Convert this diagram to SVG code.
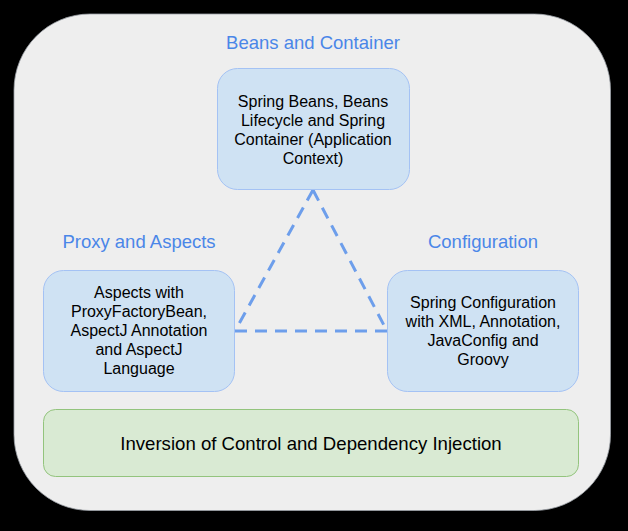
<svg xmlns="http://www.w3.org/2000/svg" width="628" height="531" viewBox="0 0 628 531">
<style>
.title{font-family:"Liberation Sans",Arial,sans-serif;font-size:18.5px;fill:#4a86e8;text-anchor:middle}
.txt{font-family:"Liberation Sans",Arial,sans-serif;font-size:16px;fill:#000;text-anchor:middle}
.big{font-family:"Liberation Sans",Arial,sans-serif;font-size:18.6px;fill:#000;text-anchor:middle}
.node{fill:#cfe2f3;stroke:#a4c2f4;stroke-width:1}
.conn{stroke:#6d9eeb;stroke-width:3;fill:none;stroke-dasharray:12 8}
</style>
<rect x="0" y="0" width="628" height="531" fill="#000"/>
<rect id="frame" x="14" y="14" width="596.5" height="496.5" rx="76" ry="76" fill="#eeeeee" stroke="#9aa0a6" stroke-width="0.8"/>
<text class="title" x="313" y="49">Beans and Container</text>
<text class="title" x="139" y="248">Proxy and Aspects</text>
<text class="title" x="483" y="248">Configuration</text>
<g id="connectors">
<line class="conn" x1="313" y1="190" x2="235" y2="331"/>
<line class="conn" x1="313" y1="190" x2="387" y2="331"/>
<line class="conn" x1="235" y1="331" x2="387" y2="331"/>
</g>
<g id="beans">
<rect class="node" x="217.5" y="68.5" width="192" height="121" rx="20"/>
<text class="txt" x="313" y="107">Spring Beans, Beans</text>
<text class="txt" x="313" y="126">Lifecycle and Spring</text>
<text class="txt" x="313" y="145">Container (Application</text>
<text class="txt" x="313" y="164">Context)</text>
</g>
<g id="aspects">
<rect class="node" x="43.5" y="270.5" width="191" height="121" rx="20"/>
<text class="txt" x="139" y="298">Aspects with</text>
<text class="txt" x="139" y="317">ProxyFactoryBean,</text>
<text class="txt" x="139" y="336">AspectJ Annotation</text>
<text class="txt" x="139" y="355">and AspectJ</text>
<text class="txt" x="139" y="374">Language</text>
</g>
<g id="config">
<rect class="node" x="387.5" y="270.5" width="191" height="121" rx="20"/>
<text class="txt" x="483" y="308">Spring Configuration</text>
<text class="txt" x="483" y="327">with XML, Annotation,</text>
<text class="txt" x="483" y="346">JavaConfig and</text>
<text class="txt" x="483" y="365">Groovy</text>
</g>
<g id="ioc">
<rect x="43.5" y="409.5" width="535" height="67" rx="12" fill="#d9ead3" stroke="#93c47d" stroke-width="1"/>
<text class="big" x="311" y="450">Inversion of Control and Dependency Injection</text>
</g>
</svg>
